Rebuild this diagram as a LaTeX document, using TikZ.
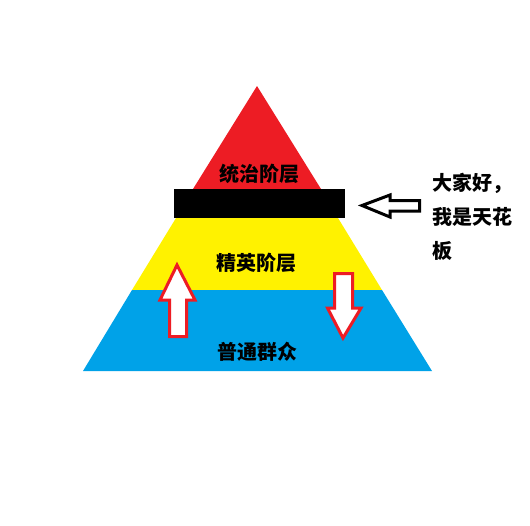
\documentclass[tikz,border=0pt]{standalone}
\usepackage{fontspec}
\newfontfamily\cjk{Noto Sans CJK SC}
\definecolor{tierred}{HTML}{ED1C24}
\definecolor{tieryellow}{HTML}{FFF200}
\definecolor{tierblue}{HTML}{00A2E8}
\tikzset{
	tier/.style={font=\cjk\bfseries\fontsize{20}{24}\selectfont, inner sep=0pt},
	hollow/.style={fill=white, line width=3pt, line join=miter}
}
\begin{document}
\begin{tikzpicture}[x=1pt, y=-1pt]
	\useasboundingbox (0, 0) rectangle (530, 525);

	% pyramid
	\fill[tierred]    (257, 86) -- (321, 189) -- (193, 189) -- cycle;
	\fill[tieryellow] (176, 218) -- (338, 218) -- (382, 290) -- (132, 290) -- cycle;
	\fill[tierblue]   (132, 290) -- (382, 290) -- (432, 371) -- (83, 371) -- cycle;
	\fill[black]      (174, 189) rectangle (345, 218);

	\node[tier] (top)    at (259, 174) {统治阶层};
	\node[tier] (middle) at (256, 263) {精英阶层};
	\node[tier] (bottom) at (257, 352) {普通群众};

	% arrows
	\draw[hollow, draw=tierred] (177, 265) -- (195, 300) -- (186.5, 300) -- (186.5, 336.5) -- (169.5, 336.5) -- (169.5, 300) -- (160, 300) -- cycle;
	\draw[hollow, draw=tierred] (334.5, 273.5) -- (352.5, 273.5) -- (352.5, 308) -- (361, 308) -- (343, 338) -- (327.5, 308) -- (334.5, 308) -- cycle;
	\draw[hollow, draw=black]   (362, 205.5) -- (390, 195) -- (390, 200.5) -- (419.5, 200.5) -- (419.5, 211) -- (390, 211) -- (390, 217) -- cycle;

	\node[tier, anchor=west, align=left, font=\cjk\bfseries\fontsize{20}{34}\selectfont] (speech) at (432, 217) {大家好，\\我是天花\\板};
\end{tikzpicture}
\end{document}
